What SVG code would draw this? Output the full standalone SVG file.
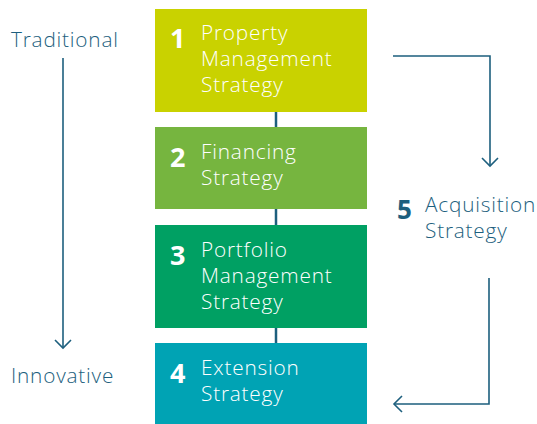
<svg xmlns="http://www.w3.org/2000/svg" width="537" height="424" viewBox="0 0 537 424">
  <defs>
    <style>
      .lbl { font-family: "Open Sans", "Noto Sans", sans-serif; font-size: 20.8px; font-weight: 300; letter-spacing: 0.8px; fill: #ffffff; }
      .num { font-family: "Open Sans", "Noto Sans", sans-serif; font-size: 27px; font-weight: 700; fill: #ffffff; }
      .side { font-family: "Open Sans", "Noto Sans", sans-serif; font-size: 20.8px; font-weight: 300; letter-spacing: 0.8px; fill: #1d5f7e; }
      .sidenum { font-family: "Open Sans", "Noto Sans", sans-serif; font-size: 26px; font-weight: 700; fill: #1d5f7e; }
      .wire { fill: none; stroke: #1d5f7e; stroke-width: 1.6; }
      .spine { fill: none; stroke: #1d5f7e; stroke-width: 2.5; }
    </style>
    <marker id="arrow" viewBox="0 0 20 20" refX="10" refY="10" markerWidth="20" markerHeight="20" markerUnits="userSpaceOnUse" orient="auto">
      <path d="M2,2 L10,10 L2,18" fill="none" stroke="#1d5f7e" stroke-width="1.6"/>
    </marker>
  </defs>

  <g id="connectors">
    <line class="spine" x1="276" y1="112" x2="276" y2="343"/>
    <line class="wire" x1="63" y1="58" x2="63" y2="348" marker-end="url(#arrow)"/>
    <polyline class="wire" points="393,56 490,56 490,166" marker-end="url(#arrow)"/>
    <polyline class="wire" points="489,278 489,404 394,404" marker-end="url(#arrow)"/>
  </g>

  <g id="node-1">
    <rect x="155" y="9" width="212" height="103" fill="#c9d200"/>
    <text class="num" x="170" y="48">1</text>
    <text class="lbl" x="201" y="40">Property</text>
    <text class="lbl" x="201" y="66">Management</text>
    <text class="lbl" x="201" y="92">Strategy</text>
  </g>

  <g id="node-2">
    <rect x="155" y="127" width="212" height="82" fill="#76b53f"/>
    <text class="num" x="170" y="167">2</text>
    <text class="lbl" x="201" y="159">Financing</text>
    <text class="lbl" x="201" y="185">Strategy</text>
  </g>

  <g id="node-3">
    <rect x="155" y="225" width="212" height="103" fill="#00a063"/>
    <text class="num" x="170" y="265">3</text>
    <text class="lbl" x="201" y="257">Portfolio</text>
    <text class="lbl" x="201" y="283">Management</text>
    <text class="lbl" x="201" y="309">Strategy</text>
  </g>

  <g id="node-4">
    <rect x="155" y="343" width="212" height="81" fill="#00a3b4"/>
    <text class="num" x="170" y="383">4</text>
    <text class="lbl" x="201" y="375">Extension</text>
    <text class="lbl" x="201" y="401">Strategy</text>
  </g>

  <g id="node-5">
    <text class="sidenum" x="397" y="219">5</text>
    <text class="side" x="425" y="212">Acquisition</text>
    <text class="side" x="425" y="238">Strategy</text>
  </g>

  <g id="node-traditional">
    <text class="side" x="11" y="47">Traditional</text>
  </g>

  <g id="node-innovative">
    <text class="side" x="11" y="383">Innovative</text>
  </g>
</svg>
